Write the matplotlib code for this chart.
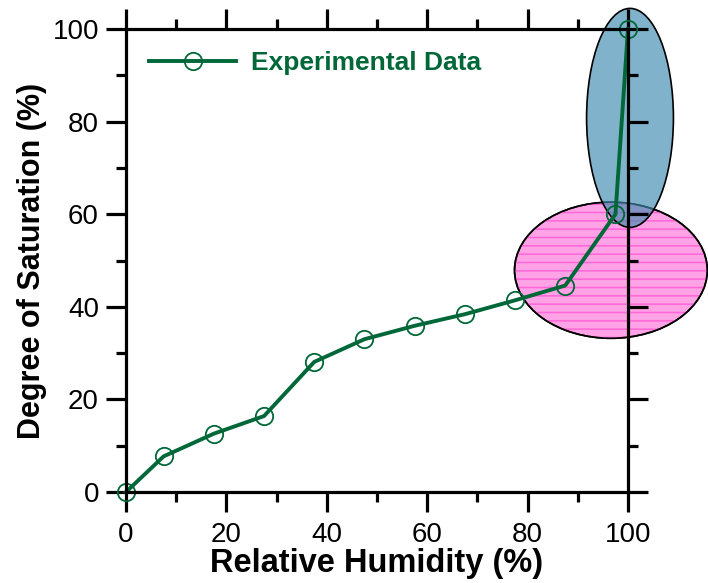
import matplotlib
matplotlib.use("Agg")
import matplotlib.pyplot as plt
from matplotlib.patches import Ellipse
from matplotlib.ticker import MultipleLocator

# ---- data ----
rh = [0, 7.5, 17.5, 27.5, 37.5, 47.5, 57.5, 67.5, 77.5, 87.5, 97.5, 100]
saturation = [0, 7.7, 12.6, 16.4, 28.1, 33.0, 35.9, 38.4, 41.4, 44.6, 60.0, 100]
series_label = "Experimental Data"
x_label = "Relative Humidity (%)"
y_label = "Degree of Saturation (%)"
x_ticks = [0, 20, 40, 60, 80, 100]
y_ticks = [0, 20, 40, 60, 80, 100]

# highlight ellipses (centre x, centre y, width, height) in data units
pink_ellipse = (96.6, 47.9, 38.4, 29.4)
blue_ellipse = (100.4, 80.8, 17.3, 47.3)

green = "#006838"

plt.rcParams['font.family'] = ['Liberation Sans', 'DejaVu Sans']
plt.rcParams['hatch.linewidth'] = 1.1

fig = plt.figure(figsize=(7.08, 5.83), dpi=100)
ax = fig.add_axes([126/708, 1-492/583, 502/708, 463/583])

ax.set_xlim(0, 100)
ax.set_ylim(0, 100)

# pink ellipse
cx, cy, w, h = pink_ellipse
ax.add_patch(Ellipse((cx, cy), w, h, facecolor="#ffa3e6", edgecolor="black",
                     lw=1.2, clip_on=False, zorder=1))
ax.add_patch(Ellipse((cx, cy), w, h, facecolor="none", edgecolor="#ff66d8",
                     hatch="--", lw=0, clip_on=False, zorder=1.05))
ax.add_patch(Ellipse((cx, cy), w, h, facecolor="none", edgecolor="black",
                     lw=1.2, clip_on=False, zorder=1.1))
# blue ellipse
cx, cy, w, h = blue_ellipse
ax.add_patch(Ellipse((cx, cy), w, h, facecolor="#3f8cb0", alpha=0.66,
                     edgecolor="none", clip_on=False, zorder=1.2))
ax.add_patch(Ellipse((cx, cy), w, h, facecolor="none", edgecolor="black",
                     lw=1.2, clip_on=False, zorder=1.3))

ax.plot(rh, saturation, color=green, lw=2.8, marker="o", markersize=12.5,
        markerfacecolor="none", markeredgecolor=green, markeredgewidth=1.3,
        label=series_label, zorder=3, clip_on=False)

for s in ax.spines.values():
    s.set_linewidth(2.3)
    s.set_zorder(4)

ax.set_xticks(x_ticks)
ax.set_yticks(y_ticks)
ax.xaxis.set_minor_locator(MultipleLocator(10))
ax.yaxis.set_minor_locator(MultipleLocator(10))
ax.tick_params(which="both", direction="out", top=True, right=True,
               width=2.3, labelsize=20)
ax.tick_params(which="major", length=14.5)
ax.tick_params(which="minor", length=7.5)
ax.tick_params(axis="x", pad=7)
ax.tick_params(axis="y", pad=5)
for t in ax.get_xticklines() + ax.get_yticklines():
    t.set_zorder(5)

ax.set_xlabel(x_label, fontsize=23.5, fontweight="bold", labelpad=0)
ax.set_ylabel(y_label, fontsize=22, fontweight="bold", labelpad=4)

leg = ax.legend(loc="upper left", bbox_to_anchor=(0.025, 0.975), frameon=False,
                handlelength=3.3, handletextpad=0.55, borderaxespad=0,
                prop={"weight": "bold", "size": 19})
for txt in leg.get_texts():
    txt.set_color(green)

fig.savefig("out.png", dpi=100)
